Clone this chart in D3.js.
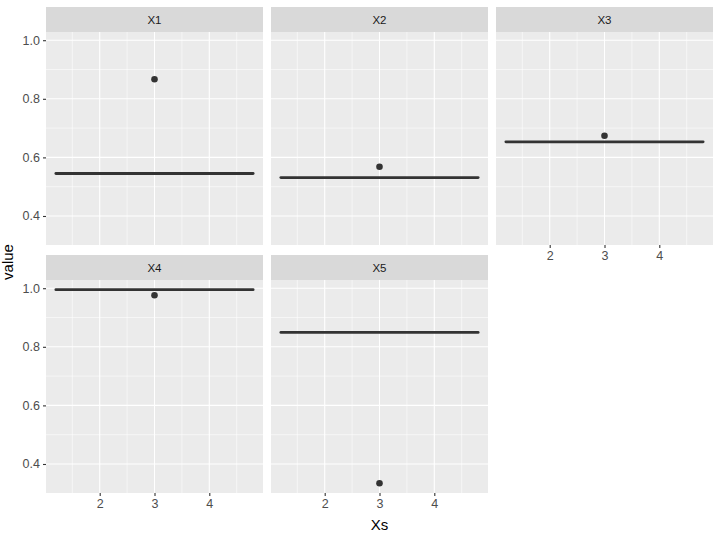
<!DOCTYPE html>
<html>
<head>
<meta charset="utf-8">
<script src="https://cdn.jsdelivr.net/npm/d3@7"></script>
<style>
  body { margin: 0; background: #fff; }
  svg { font-family: "Liberation Sans", Arial, sans-serif; }
</style>
</head>
<body>
<div id="chart"></div>
<script>
// facet data
const facets = ["X1", "X2", "X3", "X4", "X5"];
const lineValues = [0.545, 0.531, 0.653, 0.995, 0.849];
const pointValues = [0.867, 0.568, 0.674, 0.976, 0.334];
const pointX = 3;
const lineStart = 1.2;
const lineEnd = 4.8;
const xTicks = [2, 3, 4];
const yTicks = [0.4, 0.6, 0.8, 1.0];

const width = 717, height = 536;
const margin = { left: 46, top: 7 };
const panelW = 217, gapX = 8;
const stripH = 25, panelH = 213, gapY = 10;
const nCol = 3;

const svg = d3.select("#chart").append("svg")
    .attr("width", width)
    .attr("height", height);

// scales, ggplot-like 5% expansion
const xr = lineEnd - lineStart;
const x = d3.scaleLinear()
    .domain([lineStart - xr * 0.05, lineEnd + xr * 0.05])
    .range([0, panelW]);

const allY = lineValues.concat(pointValues);
const yMin = d3.min(allY), yMax = d3.max(allY);
const yr = yMax - yMin;
const y = d3.scaleLinear()
    .domain([yMin - yr * 0.05, yMax + yr * 0.05])
    .range([panelH, 0]);

const xMinor = [1.5, 2.5, 3.5, 4.5];
const yMinor = [0.3, 0.5, 0.7, 0.9];

facets.forEach((name, i) => {
    let col = i % nCol, row = Math.floor(i / nCol);
    let px = margin.left + col * (panelW + gapX);
    let py = margin.top + row * (stripH + panelH + gapY);

    let g = svg.append("g").attr("transform", `translate(${px},${py})`);

    // strip
    g.append("rect")
        .attr("width", panelW)
        .attr("height", stripH)
        .attr("fill", "#D9D9D9");
    g.append("text")
        .attr("x", panelW / 2)
        .attr("y", stripH / 2)
        .attr("dy", "0.35em")
        .attr("text-anchor", "middle")
        .attr("fill", "#1A1A1A")
        .style("font-size", "11.5px")
        .text(name);

    let p = g.append("g").attr("transform", `translate(0,${stripH})`);

    p.append("rect")
        .attr("width", panelW)
        .attr("height", panelH)
        .attr("fill", "#EBEBEB");

    // minor grid
    p.selectAll(".xminor").data(xMinor).enter().append("line")
        .attr("x1", d => x(d)).attr("x2", d => x(d))
        .attr("y1", 0).attr("y2", panelH)
        .attr("stroke", "#fff").attr("stroke-width", 0.55);
    p.selectAll(".yminor").data(yMinor.filter(d => y(d) >= 0 && y(d) <= panelH)).enter().append("line")
        .attr("x1", 0).attr("x2", panelW)
        .attr("y1", d => y(d)).attr("y2", d => y(d))
        .attr("stroke", "#fff").attr("stroke-width", 0.55);

    // major grid
    p.selectAll(".xmajor").data(xTicks).enter().append("line")
        .attr("x1", d => x(d)).attr("x2", d => x(d))
        .attr("y1", 0).attr("y2", panelH)
        .attr("stroke", "#fff").attr("stroke-width", 1.1);
    p.selectAll(".ymajor").data(yTicks).enter().append("line")
        .attr("x1", 0).attr("x2", panelW)
        .attr("y1", d => y(d)).attr("y2", d => y(d))
        .attr("stroke", "#fff").attr("stroke-width", 1.1);

    // horizontal line
    p.append("line")
        .attr("x1", x(lineStart)).attr("x2", x(lineEnd))
        .attr("y1", y(lineValues[i])).attr("y2", y(lineValues[i]))
        .attr("stroke", "#333333")
        .attr("stroke-width", 2.8)
        .attr("stroke-linecap", "round");

    // point
    p.append("circle")
        .attr("cx", x(pointX))
        .attr("cy", y(pointValues[i]))
        .attr("r", 3.3)
        .attr("fill", "#333333");

    // y axis on first column
    if (col === 0) {
        let ya = p.append("g")
            .call(d3.axisLeft(y).tickValues(yTicks).tickSize(3).tickPadding(3).tickFormat(d3.format(".1f")));
        ya.select(".domain").remove();
        ya.selectAll("line").attr("stroke", "#333333").attr("stroke-width", 1.1);
        ya.selectAll("text").attr("fill", "#4D4D4D").style("font-size", "12.5px").style("font-family", "inherit");
    }

    // x axis where no panel below
    let hasBelow = i + nCol < facets.length;
    if (!hasBelow) {
        let xa = p.append("g")
            .attr("transform", `translate(0,${panelH})`)
            .call(d3.axisBottom(x).tickValues(xTicks).tickSize(3).tickPadding(3).tickFormat(d3.format("d")));
        xa.select(".domain").remove();
        xa.selectAll("line").attr("stroke", "#333333").attr("stroke-width", 1.1);
        xa.selectAll("text").attr("fill", "#4D4D4D").style("font-size", "12.5px").style("font-family", "inherit");
    }
});

// axis titles
svg.append("text")
    .attr("x", margin.left + (panelW * 3 + gapX * 2) / 2)
    .attr("y", 530)
    .attr("text-anchor", "middle")
    .attr("fill", "#000")
    .style("font-size", "15px")
    .text("Xs");

svg.append("text")
    .attr("transform", "translate(13,262) rotate(-90)")
    .attr("text-anchor", "middle")
    .attr("fill", "#000")
    .style("font-size", "15px")
    .text("value");
</script>
</body>
</html>
